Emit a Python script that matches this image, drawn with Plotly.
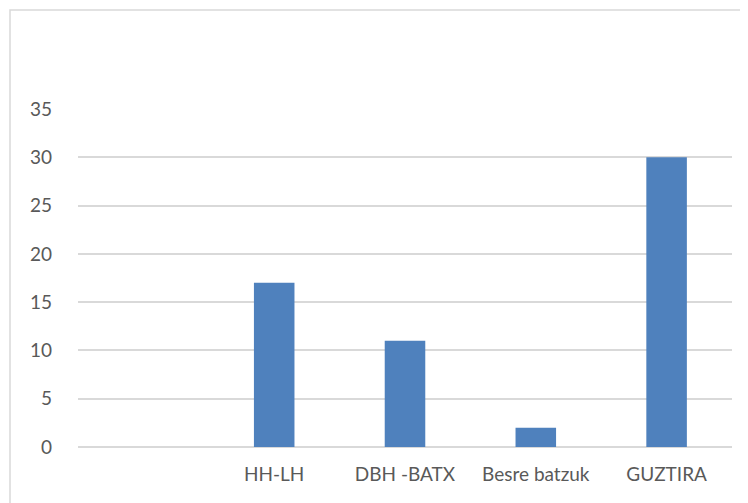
import plotly.graph_objects as go

categories = [" ", "HH-LH", "DBH -BATX", "Besre batzuk", "GUZTIRA"]
values = [None, 17, 11, 2, 30]
y_ticks = [0, 5, 10, 15, 20, 25, 30, 35]

# page body has an 8px margin
OFF = 8
W, H = 748 - OFF, 503 - OFF
L, R, T, B = 78 - OFF, 16, 109 - OFF, 56
pw, ph = W - L - R, H - T - B

fig = go.Figure(go.Bar(x=categories, y=values, marker_color="#4f81bd",
                       marker_line_width=0))
fig.update_layout(
    width=W, height=H,
    margin=dict(l=L, r=R, t=T, b=B, autoexpand=False),
    paper_bgcolor="white", plot_bgcolor="white",
    bargap=0.69, showlegend=False,
    font=dict(family="Lato, Open Sans, sans-serif", size=19, color="#595959"),
    xaxis=dict(type="category", showgrid=False, showline=False, ticks="",
               ticklabelstandoff=14,
               tickfont=dict(size=19, color="#595959")),
    yaxis=dict(range=[0, 35], tickvals=y_ticks, showgrid=True,
               gridcolor="#d9d9d9", gridwidth=1.5, zeroline=True,
               zerolinecolor="#d9d9d9", zerolinewidth=1.5, showline=False,
               ticks="", ticklabelstandoff=25,
               tickfont=dict(size=19, color="#595959")),
    shapes=[dict(type="rect", xref="paper", yref="paper",
                 x0=(10 - OFF - L) / pw, x1=(W + 5 - L) / pw,
                 y0=-(H + 5 - (T + ph)) / ph, y1=1 + (T - (10 - OFF)) / ph,
                 line=dict(color="#d9d9d9", width=1.5), layer="below")],
)
fig.write_html("out.html")
